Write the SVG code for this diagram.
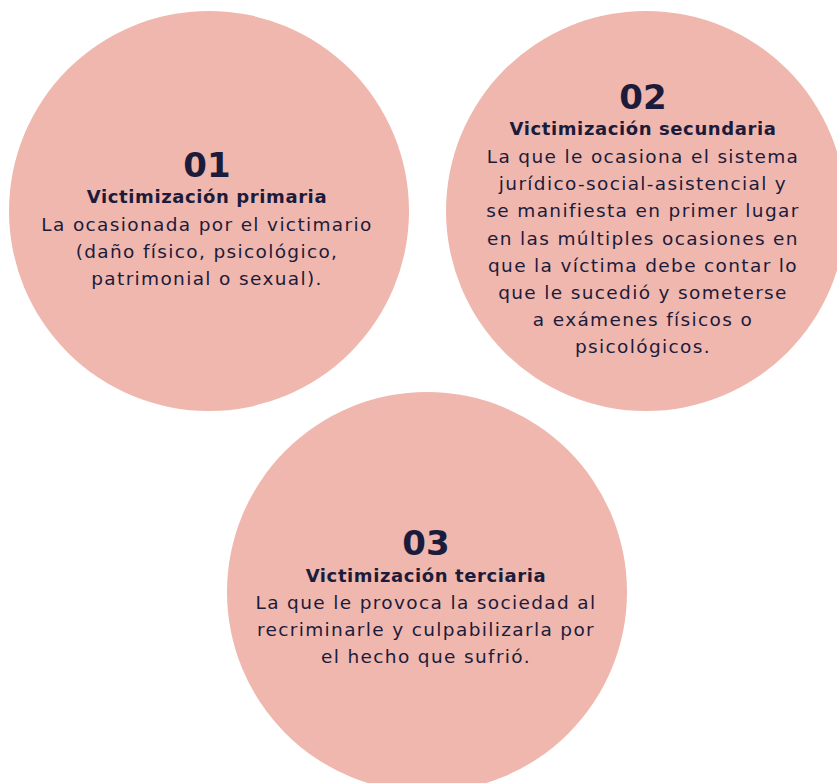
<svg xmlns="http://www.w3.org/2000/svg" width="837" height="783" viewBox="0 0 837 783">
<style>
.c{fill:#EFB7AE}
.num{font-family:"DejaVu Sans",sans-serif;font-weight:bold;font-size:34px;fill:#1C1B3B;text-anchor:middle}
.hd{font-family:"DejaVu Sans",sans-serif;font-weight:bold;font-size:18px;letter-spacing:0.6px;fill:#1C1B3B;text-anchor:middle}
.bd{font-family:"DejaVu Sans",sans-serif;font-size:18.5px;letter-spacing:1.35px;fill:#1C1B3B;text-anchor:middle}
</style>
<rect width="837" height="783" fill="#FFFFFF"/>
<g id="node-01">
<circle class="c" cx="209" cy="211" r="200"/>
<text class="num" x="207" y="177">01</text>
<text class="hd" x="207" y="203">Victimización primaria</text>
<text class="bd" x="207" y="231">La ocasionada por el victimario</text>
<text class="bd" x="207" y="258">(daño físico, psicológico,</text>
<text class="bd" x="207" y="285">patrimonial o sexual).</text>
</g>
<g id="node-02">
<circle class="c" cx="646" cy="211" r="200"/>
<text class="num" x="643" y="109">02</text>
<text class="hd" x="643" y="135">Victimización secundaria</text>
<text class="bd" x="643" y="163">La que le ocasiona el sistema</text>
<text class="bd" x="643" y="190">jurídico-social-asistencial y</text>
<text class="bd" x="643" y="217">se manifiesta en primer lugar</text>
<text class="bd" x="643" y="245">en las múltiples ocasiones en</text>
<text class="bd" x="643" y="272">que la víctima debe contar lo</text>
<text class="bd" x="643" y="299">que le sucedió y someterse</text>
<text class="bd" x="643" y="326">a exámenes físicos o</text>
<text class="bd" x="643" y="353">psicológicos.</text>
</g>
<g id="node-03">
<circle class="c" cx="427" cy="592" r="200"/>
<text class="num" x="426" y="555">03</text>
<text class="hd" x="426" y="582">Victimización terciaria</text>
<text class="bd" x="426" y="609">La que le provoca la sociedad al</text>
<text class="bd" x="426" y="636">recriminarle y culpabilizarla por</text>
<text class="bd" x="426" y="663">el hecho que sufrió.</text>
</g>
<g id="connectors"></g>
</svg>
